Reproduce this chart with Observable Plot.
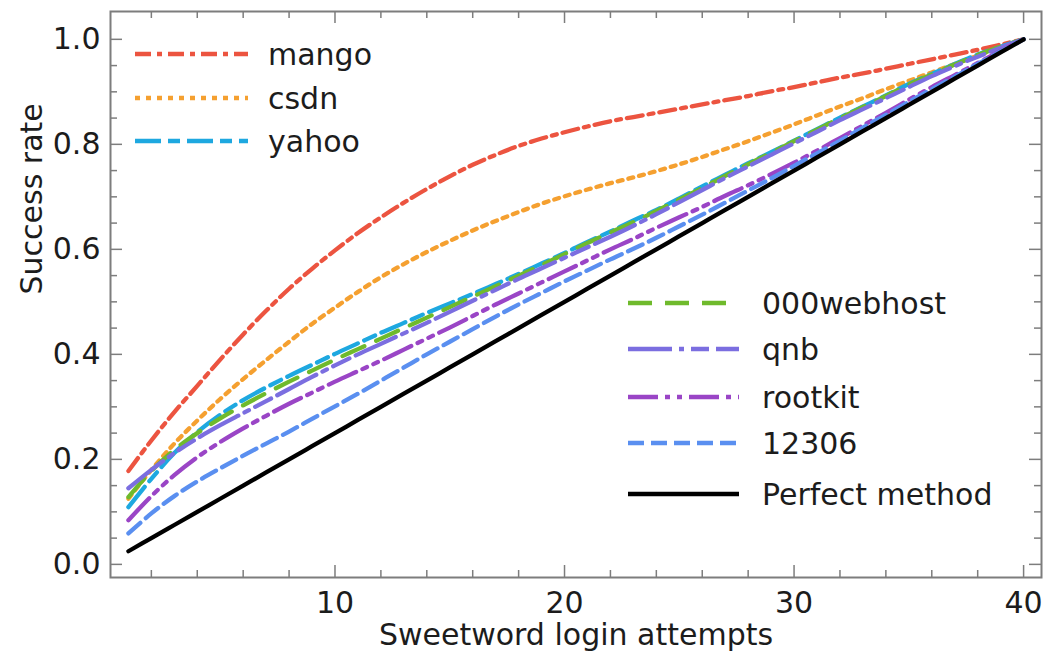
<!DOCTYPE html>
<html>
<head>
<meta charset="utf-8">
<script src="https://cdn.jsdelivr.net/npm/d3@7"></script>
<script src="https://cdn.jsdelivr.net/npm/@observablehq/plot@0.6"></script>
<style>
  html, body { margin: 0; padding: 0; background: #ffffff; }
  #chart svg { display: block; }
</style>
</head>
<body>
<div id="chart"></div>
<script>
// ---------- data ----------
const attempts = [1,2,3,4,5,6,7,8,9,10,11,12,13,14,15,16,17,18,19,20,21,22,23,24,25,26,27,28,29,30,31,32,33,34,35,36,37,38,39,40];

const mango = [0.178,0.236,0.29,0.34,0.39,0.438,0.483,0.525,0.563,0.598,0.631,0.661,0.689,0.715,0.739,0.761,0.78,0.797,0.811,0.823,0.834,0.844,0.852,0.86,0.868,0.876,0.884,0.892,0.901,0.909,0.918,0.927,0.935,0.944,0.953,0.962,0.971,0.98,0.99,1.0];
const csdn = [0.125,0.18,0.23,0.274,0.315,0.353,0.389,0.424,0.458,0.489,0.519,0.547,0.572,0.595,0.616,0.636,0.654,0.671,0.687,0.701,0.714,0.726,0.737,0.749,0.762,0.776,0.791,0.806,0.822,0.838,0.855,0.872,0.888,0.905,0.921,0.937,0.953,0.969,0.985,1.0];
const yahoo = [0.109,0.163,0.212,0.252,0.285,0.313,0.337,0.359,0.38,0.401,0.421,0.441,0.46,0.479,0.497,0.515,0.534,0.553,0.573,0.593,0.614,0.634,0.655,0.675,0.697,0.72,0.742,0.764,0.785,0.807,0.829,0.851,0.872,0.893,0.915,0.934,0.953,0.971,0.986,1.0];
const webhost000 = [0.128,0.178,0.218,0.25,0.278,0.303,0.326,0.348,0.369,0.39,0.41,0.43,0.45,0.47,0.49,0.51,0.53,0.55,0.57,0.591,0.612,0.632,0.652,0.673,0.695,0.717,0.74,0.762,0.784,0.806,0.828,0.85,0.871,0.892,0.914,0.933,0.952,0.97,0.986,1.0];
const qnb = [0.145,0.18,0.212,0.24,0.265,0.288,0.311,0.334,0.357,0.379,0.4,0.42,0.44,0.46,0.481,0.502,0.523,0.544,0.564,0.584,0.604,0.624,0.645,0.667,0.69,0.713,0.736,0.758,0.78,0.802,0.824,0.846,0.867,0.888,0.909,0.93,0.949,0.967,0.984,1.0];
const rootkit = [0.084,0.13,0.17,0.204,0.233,0.259,0.283,0.306,0.327,0.348,0.368,0.388,0.409,0.43,0.451,0.473,0.495,0.516,0.537,0.558,0.579,0.6,0.62,0.641,0.661,0.681,0.702,0.722,0.743,0.765,0.788,0.812,0.836,0.86,0.885,0.909,0.932,0.955,0.978,1.0];
const s12306 = [0.059,0.097,0.13,0.158,0.183,0.207,0.23,0.253,0.277,0.301,0.325,0.35,0.375,0.4,0.424,0.448,0.472,0.495,0.517,0.539,0.56,0.581,0.601,0.622,0.644,0.666,0.689,0.712,0.735,0.759,0.783,0.807,0.832,0.856,0.881,0.905,0.929,0.953,0.977,1.0];
const perfect = [0.025,0.05,0.075,0.1,0.125,0.15,0.175,0.2,0.225,0.25,0.275,0.3,0.325,0.35,0.375,0.4,0.425,0.45,0.475,0.5,0.525,0.55,0.575,0.6,0.625,0.65,0.675,0.7,0.725,0.75,0.775,0.8,0.825,0.85,0.875,0.9,0.925,0.95,0.975,1.0];

const seriesNames  = ["mango","csdn","yahoo","000webhost","qnb","rootkit","12306","Perfect method"];
const seriesValues = [mango, csdn, yahoo, webhost000, qnb, rootkit, s12306, perfect];
const seriesColors = ["#ec5440","#f5a030","#1ea8e0","#6fba2c","#7b6ee0","#9a45c6","#5a8ff0","#000000"];
const seriesDash   = ["16,6,5,6","5,6","26,7,12,7","24,13","44,7,5,7,18,7","30,7,5,7,5,7","16,7",null];

const xMajorTicks = [10,20,30,40];
const xMinorTicks = [2,4,6,8,12,14,16,18,22,24,26,28,32,34,36,38];
const yMajorTicks = [0,0.2,0.4,0.6,0.8,1.0];
const yMinorTicks = [0.05,0.1,0.15,0.25,0.3,0.35,0.45,0.5,0.55,0.65,0.7,0.75,0.85,0.9,0.95];
const xLabel = "Sweetword login attempts";
const yLabel = "Success rate";

// ---------- layout ----------
const W = 1043, H = 653;
const mL = 110, mR = 2, mT = 11, mB = 76;
const innerW = W - mL - mR, innerH = H - mT - mB;
const FONT = "DejaVu Sans";
const GRAY = "#7d7d7d";
const TXT = "#1c1c1c";
const LW = 4.3;

const rows = [];
seriesNames.forEach((name, i) => {
  seriesValues[i].forEach((v, j) => rows.push({series: name, x: attempts[j], y: v}));
});

const lineMarks = seriesNames.map((name, i) =>
  Plot.line(rows.filter(d => d.series === name), {
    x: "x", y: "y",
    stroke: seriesColors[i],
    strokeWidth: LW,
    strokeDasharray: seriesDash[i] || undefined,
    curve: "catmull-rom"
  })
);

const tickStyle = {stroke: GRAY, strokeWidth: 1.5};

const chart = Plot.plot({
  width: W, height: H,
  marginLeft: mL, marginRight: mR, marginTop: mT, marginBottom: mB,
  style: {fontFamily: FONT, fontSize: "30px", background: "#ffffff", color: TXT},
  x: {domain: [0.22, 40.78]},
  y: {domain: [-0.025, 1.053]},
  marks: [
    ...lineMarks,
    // inward ticks on all four sides
    Plot.tickX(xMinorTicks, {x: d => d, insetTop: innerH - 7, ...tickStyle}),
    Plot.tickX(xMajorTicks, {x: d => d, insetTop: innerH - 12, ...tickStyle}),
    Plot.tickX(xMinorTicks, {x: d => d, insetBottom: innerH - 7, ...tickStyle}),
    Plot.tickX(xMajorTicks, {x: d => d, insetBottom: innerH - 12, ...tickStyle}),
    Plot.tickY(yMinorTicks, {y: d => d, insetRight: innerW - 7, ...tickStyle}),
    Plot.tickY(yMajorTicks, {y: d => d, insetRight: innerW - 12, ...tickStyle}),
    Plot.tickY(yMinorTicks, {y: d => d, insetLeft: innerW - 7, ...tickStyle}),
    Plot.tickY(yMajorTicks, {y: d => d, insetLeft: innerW - 12, ...tickStyle}),
    Plot.frame({stroke: GRAY, strokeWidth: 2}),
    Plot.axisX({ticks: xMajorTicks, tickSize: 0, tickPadding: 14, label: null,
      fontSize: 30, fontFamily: FONT, fill: TXT}),
    Plot.axisY({ticks: yMajorTicks, tickSize: 0, tickPadding: 10, label: null,
      tickFormat: d3.format(".1f"), fontSize: 30, fontFamily: FONT, fill: TXT}),
    Plot.text([xLabel], {frameAnchor: "bottom", dy: 58, text: d => d,
      fontSize: 30, fontFamily: FONT, fill: TXT, lineAnchor: "middle"}),
    Plot.text([yLabel], {frameAnchor: "left", dx: -78, rotate: -90, text: d => d,
      fontSize: 30, fontFamily: FONT, fill: TXT, lineAnchor: "middle"})
  ]
});

// ---------- legends (inside plot area) ----------
const svg = d3.select(chart.tagName.toLowerCase() === "svg" ? chart : chart.querySelector("svg"));
const legendGroups = [
  {idx: [0,1,2], x0: 135, x1: 248, tx: 268, ys: [54, 98, 141]},
  {idx: [3,4,5,6,7], x0: 628, x1: 739, tx: 762, ys: [303, 349, 397, 443, 494]}
];
legendGroups.forEach(g => {
  const lg = svg.append("g").attr("class", "legend");
  g.idx.forEach((si, k) => {
    const y = g.ys[k];
    const ln = lg.append("line")
      .attr("x1", g.x0).attr("x2", g.x1).attr("y1", y).attr("y2", y)
      .attr("stroke", seriesColors[si]).attr("stroke-width", LW);
    if (seriesDash[si]) ln.attr("stroke-dasharray", seriesDash[si]);
    lg.append("text")
      .attr("x", g.tx).attr("y", y + 10.5)
      .attr("text-anchor", "start")
      .attr("font-family", FONT).attr("font-size", 30).attr("fill", TXT)
      .text(seriesNames[si]);
  });
});

document.getElementById("chart").appendChild(chart);
</script>
</body>
</html>
